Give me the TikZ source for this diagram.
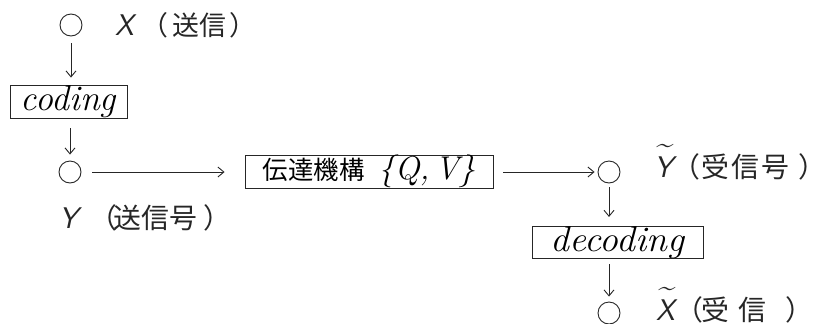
\documentclass[tikz,border=0pt]{standalone}
\usepackage{fontspec}
\usepackage{graphicx}
\newfontfamily\jp{Noto Sans CJK JP}
\usetikzlibrary{arrows.meta}
\newcommand\tld[1]{\ooalign{#1\cr\hidewidth\raisebox{0.78em}{\textasciitilde}\hidewidth\cr}}
\newcommand\lat[1]{{\sffamily\itshape\fontsize{30}{30}\selectfont #1}}
\tikzset{
  ink/.style={draw=black!85, line width=0.9bp},
  pt/.style={circle, ink, minimum size=22bp, inner sep=0pt},
  blk/.style={rectangle, ink, inner sep=0pt},
  arr/.style={ink, -{Straight Barb[length=6bp,width=10bp]}},
  lbl/.style={inner sep=0pt, text=black!85, anchor=base west},
  jpa/.style={lbl, font=\jp\fontsize{27}{27}\selectfont},
  jpb/.style={lbl, font=\jp\fontsize{28}{28}\selectfont},
}
\begin{document}
\begin{tikzpicture}[x=1bp, y=-1bp]
\useasboundingbox (0,0) rectangle (815,323);
% sender
\node[pt] (c1) at (71,25) {};
\node[jpa] (xs) at (115,35) {\lat{X}\hspace{8bp}（\hspace{3.5bp}送信\hspace{3.5bp}）};
% coding
\node[blk, minimum width=117bp, minimum height=33bp] (cod) at (68.5,101.5)
  {\fontsize{36}{36}\selectfont\itshape coding};
% encoded
\node[pt] (c2) at (70,172) {};
\node[jpb] (ys) at (59,228) {\lat{Y}\hspace{12bp}（\hspace{-4bp}送信号\hspace{6bp}）};
% channel
\node[blk, minimum width=248bp, minimum height=33bp] (ch) at (369,171.5)
  {{\jp\fontsize{25.5}{25.5}\selectfont 伝達機構}\hspace{14bp}{\fontsize{33}{33}\selectfont\itshape\{Q,\,V\}}};
% received signal
\node[pt] (c3) at (609,172) {};
\node[jpb] (yr) at (654,177) {\lat{\tld{Y}}\hspace{0bp}（\hspace{1bp}受\hspace{2bp}信\hspace{2bp}号\hspace{9bp}）};
% decoding
\node[blk, minimum width=171bp, minimum height=31bp] (dec) at (617.5,242.5)
  {\scalebox{1.05}[1]{\fontsize{36}{36}\selectfont\itshape decoding}};
% received
\node[pt] (c4) at (609,313) {};
\node[jpb] (xr) at (656,320) {\lat{\tld{X}}\hspace{1bp}（\hspace{-2bp}受\hspace{9bp}信\hspace{19bp}）};
% connectors
\draw[arr, shorten <=7bp, shorten >=7bp] (c1) -- (c1 |- cod.north);
\draw[arr, shorten <=10bp, shorten >=6bp] (cod.south -| c2) -- (c2);
\draw[arr, shorten <=11bp, shorten >=20bp] (c2) -- (ch.west |- c2);
\draw[arr, shorten <=10bp, shorten >=3bp] (ch.east |- c3) -- (c3);
\draw[arr, shorten <=4bp, shorten >=9bp] (c3) -- (c3 |- dec.north);
\draw[arr, shorten <=5bp, shorten >=5bp] (dec.south -| c4) -- (c4);
\end{tikzpicture}
\end{document}
